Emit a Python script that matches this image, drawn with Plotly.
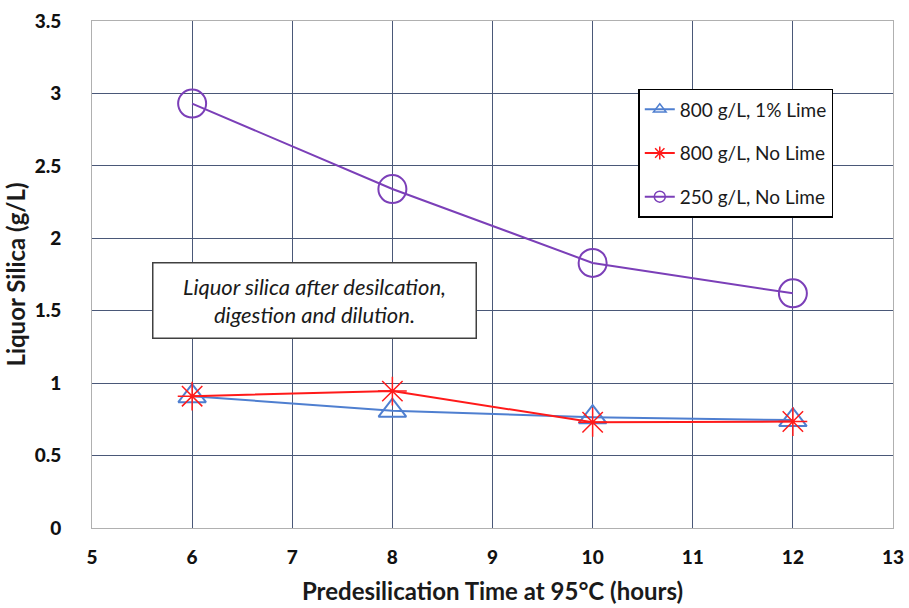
import plotly.graph_objects as go

hours = [6, 8, 10, 12]
lime_800 = [0.91, 0.81, 0.765, 0.745]
nolime_800 = [0.91, 0.945, 0.73, 0.735]
nolime_250 = [2.93, 2.34, 1.83, 1.62]

x_ticks = [5, 6, 7, 8, 9, 10, 11, 12, 13]
y_ticks = [0, 0.5, 1, 1.5, 2, 2.5, 3, 3.5]

series = [
    ("800 g/L, 1% Lime", lime_800, "#4f7fd0", "triangle-up-open", 24, 2),
    ("800 g/L, No Lime", nolime_800, "#ff1a1a", "asterisk-open", 24, 1.5),
    ("250 g/L, No Lime", nolime_250, "#7b3fb8", "circle-open", 28, 2),
]

fig = go.Figure()
for i, (name, vals, color, symbol, size, mw) in enumerate(series):
    # plotted series
    fig.add_trace(go.Scatter(
        x=hours, y=vals, name=name, mode="lines+markers", showlegend=False,
        line=dict(color=color, width=2),
        marker=dict(symbol=symbol, size=size, color=color,
                    line=dict(width=mw, color=color)),
    ))
    # legend entry with a small key marker
    fig.add_trace(go.Scatter(
        x=[None], y=[None], name=name, mode="lines+markers",
        legendgroup=f"g{i}",
        line=dict(color=color, width=2),
        marker=dict(symbol=symbol, size=11, color=color,
                    line=dict(width=1.5, color=color)),
    ))

fig.add_annotation(
    xref="paper", yref="paper", x=0.278, y=0.448,
    xanchor="center", yanchor="middle",
    text="<i>Liquor silica after desilcation,<br>digestion and dilution.</i>",
    showarrow=False, align="center",
    font=dict(family="Lato, Open Sans, sans-serif", size=22, color="#1a1a1a"),
    bordercolor="#404040", borderwidth=1.5, bgcolor="white",
    borderpad=0, width=322, height=74,
)

tick_font = dict(size=19, color="#111111", family="Lato, sans-serif", weight=900)

fig.update_layout(
    width=909, height=608,
    margin=dict(l=92, r=16, t=21, b=80),
    paper_bgcolor="white", plot_bgcolor="white",
    font=dict(family="Lato, Open Sans, sans-serif", color="#1a1a1a"),
    legend=dict(
        x=0.682, y=0.866, xanchor="left", yanchor="top",
        bgcolor="white", bordercolor="#000000", borderwidth=1.5,
        font=dict(size=19, color="#1a1a1a"),
        tracegroupgap=16, itemwidth=30,
    ),
)
fig.update_xaxes(
    range=[5, 13], tickvals=x_ticks, ticktext=[str(v) for v in x_ticks],
    ticks="", ticklabelstandoff=12,
    showgrid=True, gridcolor="#4a5878", gridwidth=1,
    showline=True, linecolor="#b0b0b0", linewidth=1, mirror=True,
    zeroline=False, automargin=False,
    tickfont=tick_font,
    title=dict(text="<b>Predesilication Time at 95°C (hours)</b>",
               font=dict(size=24, color="#1a1a1a"), standoff=16),
)
fig.update_yaxes(
    range=[0, 3.5], tickvals=y_ticks, ticktext=[str(v) for v in y_ticks],
    ticks="", ticklabelstandoff=26,
    showgrid=True, gridcolor="#4a5878", gridwidth=1,
    showline=True, linecolor="#b0b0b0", linewidth=1, mirror=True,
    zeroline=False, automargin=False,
    tickfont=tick_font,
    title=dict(text="<b>Liquor Silica (g/L)</b>",
               font=dict(size=24, color="#1a1a1a"), standoff=2),
)

fig.write_html("out.html")
